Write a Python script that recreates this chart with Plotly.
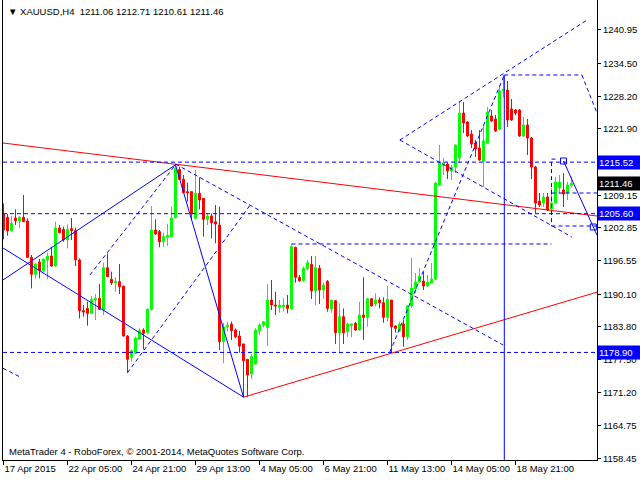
import plotly.graph_objects as go

# Velas H4 de XAUUSD (indice de barra 0..142)
opens = [1205.54, 1204.90, 1202.33, 1204.77, 1204.19, 1204.90, 1204.19, 1197.20, 1193.93, 1196.30,
         1194.63, 1196.69, 1197.46, 1195.53, 1202.84, 1202.59, 1200.54, 1202.72, 1202.33, 1196.69,
         1186.94, 1187.38, 1186.42, 1188.99, 1189.31, 1187.06, 1195.21, 1192.97, 1192.32, 1192.52,
         1191.68, 1182.06, 1177.95, 1178.72, 1181.48, 1183.21, 1182.70, 1187.19, 1202.46, 1202.14,
         1200.21, 1201.05, 1201.18, 1204.83, 1214.13, 1212.21, 1209.84, 1209.84, 1204.70, 1209.52,
         1208.55, 1204.51, 1205.15, 1204.06, 1203.42, 1180.97, 1183.85, 1184.37, 1183.21, 1182.06,
         1180.52, 1177.57, 1174.74, 1176.67, 1183.08, 1184.17, 1183.72, 1188.98, 1188.02, 1187.57,
         1187.70, 1188.02, 1187.25, 1199.12, 1193.35, 1192.71, 1195.08, 1195.85, 1190.78, 1195.08,
         1190.91, 1192.58, 1187.25, 1188.86, 1182.70, 1185.78, 1182.89, 1184.11, 1184.49, 1183.21,
         1186.10, 1185.65, 1189.24, 1188.22, 1188.98, 1188.47, 1185.65, 1188.98, 1183.98, 1183.08,
         1184.37, 1181.93, 1187.83, 1191.10, 1192.45, 1192.64, 1191.68, 1192.26, 1193.03, 1211.12,
         1214.97, 1215.16, 1213.81, 1214.58, 1216.31, 1224.97, 1223.24, 1220.93, 1219.20, 1218.24,
         1215.74, 1219.20, 1224.40, 1223.82, 1221.90, 1229.21, 1229.40, 1225.74, 1225.55, 1225.55,
         1220.55, 1222.66, 1220.16, 1214.58, 1208.04, 1207.65, 1208.81, 1206.50, 1207.65, 1210.54,
         1210.16, 1209.58, 1211.06]
highs = [1207.59, 1205.54, 1205.15, 1206.44, 1205.15, 1209.20, 1204.70, 1197.65, 1196.17, 1196.88,
         1196.95, 1198.10, 1199.25, 1204.06, 1203.42, 1203.10, 1203.55, 1204.77, 1202.91, 1197.01,
         1188.03, 1188.67, 1189.76, 1190.14, 1192.07, 1196.17, 1197.97, 1194.44, 1193.35, 1195.92,
         1191.75, 1182.25, 1179.49, 1181.93, 1183.54, 1183.54, 1187.38, 1207.08, 1204.51, 1202.46,
         1201.95, 1203.61, 1206.95, 1215.00, 1214.65, 1213.04, 1211.57, 1209.90, 1214.01, 1212.60,
         1208.60, 1205.67, 1205.66, 1207.27, 1206.95, 1184.62, 1184.82, 1184.82, 1183.53, 1183.08,
         1180.60, 1177.60, 1178.59, 1183.53, 1184.49, 1184.90, 1192.06, 1192.83, 1190.59, 1188.98,
         1189.31, 1189.95, 1199.76, 1199.25, 1193.80, 1195.40, 1196.68, 1197.45, 1197.45, 1195.72,
         1192.32, 1192.83, 1189.00, 1188.90, 1188.34, 1187.38, 1184.62, 1184.49, 1184.82, 1188.66,
         1193.35, 1189.30, 1189.30, 1190.27, 1189.50, 1189.50, 1191.68, 1189.00, 1184.17, 1184.82,
         1185.14, 1188.02, 1197.07, 1194.18, 1195.15, 1194.38, 1193.80, 1196.11, 1211.70, 1218.82,
         1216.31, 1215.40, 1214.97, 1218.90, 1227.09, 1227.09, 1223.40, 1221.70, 1219.78, 1221.70,
         1222.66, 1226.13, 1225.55, 1224.59, 1230.36, 1232.29, 1231.13, 1227.67, 1225.74, 1225.74,
         1224.20, 1223.82, 1220.36, 1214.80, 1209.58, 1209.58, 1209.58, 1210.50, 1212.66, 1213.04,
         1213.43, 1211.70, 1212.71]
lows = [1200.66, 1201.37, 1202.14, 1203.42, 1202.78, 1204.00, 1197.10, 1191.23, 1193.16, 1193.16,
        1194.44, 1192.97, 1195.40, 1195.40, 1201.82, 1200.21, 1198.93, 1200.54, 1195.53, 1185.46,
        1185.78, 1184.05, 1186.30, 1185.14, 1187.06, 1186.10, 1193.40, 1191.87, 1190.59, 1190.14,
        1181.93, 1175.00, 1177.12, 1178.60, 1181.29, 1179.49, 1182.57, 1186.94, 1201.50, 1199.12,
        1199.25, 1199.38, 1201.10, 1204.70, 1212.08, 1209.52, 1207.91, 1204.51, 1204.60, 1206.44,
        1201.18, 1203.42, 1200.85, 1199.89, 1179.36, 1176.80, 1182.89, 1181.29, 1181.61, 1178.85,
        1170.25, 1170.38, 1173.78, 1176.60, 1182.25, 1183.72, 1180.13, 1187.06, 1186.10, 1186.55,
        1186.74, 1186.42, 1187.20, 1192.32, 1192.51, 1192.50, 1194.76, 1189.18, 1188.02, 1188.22,
        1189.18, 1186.74, 1186.55, 1180.52, 1178.72, 1180.52, 1181.93, 1181.80, 1183.08, 1183.08,
        1181.29, 1183.85, 1187.70, 1187.83, 1187.38, 1184.62, 1184.82, 1178.85, 1182.70, 1182.89,
        1180.00, 1181.29, 1187.45, 1190.34, 1192.26, 1190.91, 1191.49, 1192.20, 1192.84, 1210.93,
        1213.04, 1212.27, 1212.08, 1213.43, 1215.35, 1221.13, 1220.36, 1218.24, 1216.51, 1215.80,
        1210.73, 1219.10, 1223.24, 1221.32, 1221.70, 1228.00, 1222.28, 1223.44, 1224.59, 1220.36,
        1220.36, 1216.89, 1212.27, 1205.73, 1206.88, 1206.88, 1206.12, 1205.60, 1207.50, 1209.58,
        1206.88, 1208.23, 1210.61]
closes = [1202.46, 1202.33, 1203.74, 1204.26, 1204.90, 1204.06, 1197.20, 1193.93, 1195.92, 1194.63,
          1196.88, 1197.46, 1195.53, 1202.84, 1201.95, 1200.54, 1202.59, 1202.33, 1196.69, 1186.94,
          1186.68, 1186.42, 1189.12, 1189.31, 1187.19, 1195.21, 1193.48, 1192.32, 1192.52, 1191.55,
          1182.06, 1177.57, 1179.24, 1181.67, 1183.09, 1182.57, 1187.19, 1202.46, 1201.69, 1200.21,
          1201.18, 1201.43, 1204.77, 1214.33, 1212.21, 1209.64, 1209.64, 1205.54, 1209.52, 1208.23,
          1204.51, 1205.15, 1203.87, 1203.61, 1180.97, 1183.85, 1184.17, 1183.08, 1181.93, 1180.13,
          1177.31, 1174.55, 1178.08, 1183.21, 1184.17, 1184.82, 1188.98, 1188.02, 1187.83, 1188.02,
          1188.02, 1187.38, 1199.25, 1193.35, 1192.71, 1195.08, 1196.17, 1190.78, 1195.21, 1190.91,
          1191.87, 1187.38, 1188.98, 1182.70, 1185.78, 1182.70, 1184.37, 1184.37, 1183.21, 1186.10,
          1185.65, 1189.24, 1187.83, 1188.98, 1188.47, 1185.65, 1189.11, 1183.85, 1183.53, 1184.37,
          1181.93, 1187.83, 1191.30, 1192.45, 1193.61, 1191.68, 1192.45, 1193.03, 1211.50, 1215.35,
          1215.35, 1213.81, 1214.58, 1218.82, 1224.97, 1223.05, 1220.55, 1219.01, 1218.05, 1215.93,
          1219.59, 1225.17, 1223.43, 1221.51, 1229.21, 1229.60, 1223.63, 1223.63, 1224.97, 1220.55,
          1222.66, 1220.16, 1214.58, 1207.65, 1207.27, 1208.81, 1206.31, 1207.65, 1211.70, 1211.70,
          1209.39, 1211.12, 1211.46]
bars = list(range(len(closes)))

# Etiquetas del eje de tiempo (cada 16 barras)
date_ticks = [0, 16, 32, 48, 64, 80, 96, 112, 128]
date_labels = ['17 Apr 2015', '22 Apr 05:00', '24 Apr 21:00', '29 Apr 13:00', '4 May 05:00',
               '6 May 21:00', '11 May 13:00', '14 May 05:00', '18 May 21:00']

# Escala de precios del eje derecho (1215.52 queda tapado por su caja)
price_ticks = [1240.95, 1234.50, 1228.20, 1221.90, 1215.52, 1209.15, 1202.85,
               1196.55, 1190.10, 1183.80, 1177.50, 1171.20, 1164.75, 1158.45]
price_labels = ['1240.95', '1234.50', '1228.20', '1221.90', '', '1209.15', '1202.85',
                '1196.55', '1190.10', '1183.80', '1177.50', '1171.20', '1164.75', '1158.45']

# Niveles marcados en el eje (precio, color de fondo)
marked_levels = [(1215.52, '#0000ff'), (1211.46, '#000000'), (1205.60, '#0000ff'), (1178.90, '#0000ff')]

# Objetos dibujados sobre el grafico: (barra, precio) inicio y fin
red_lines = [
    [(-0.125, 1219.20), (148.375, 1205.15)],
    [(60, 1170.30), (148.375, 1190.50)],
]
blue_solid = [
    [(-0.125, 1199.00), (60, 1170.30)],
    [(-0.125, 1192.84), (43, 1215.00)],
    [(43, 1215.00), (60, 1170.30)],
    [(125.2, 1232.29), (125.2, 1158.20)],
    [(140, 1215.74), (148.375, 1201.46)],
]
blue_dashed = [
    [(-0.125, 1215.52), (148.375, 1215.52)],
    [(-0.125, 1205.60), (148.375, 1205.60)],
    [(-0.125, 1178.90), (148.375, 1178.90)],
    [(72, 1199.77), (137, 1199.77)],
    [(125.2, 1232.29), (144.6, 1232.29)],
    [(137, 1209.58), (148.375, 1209.58)],
    [(137, 1203.23), (148.375, 1203.23)],
    [(138, 1216.10), (137, 1216.10), (137, 1203.23)],
    [(21.6, 1193.80), (43, 1215.00)],
    [(31, 1175.00), (62, 1207.60)],
    [(43, 1215.16), (124.9, 1180.33)],
    [(99.1, 1219.78), (145.9, 1242.87)],
    [(99.1, 1219.78), (142.1, 1201.11)],
    [(96.6, 1178.98), (125.2, 1232.29)],
    [(-0.125, 1175.85), (4.6, 1174.00)],
    [(144.6, 1232.29), (148.375, 1224.97)],
]
anchor_points = [(140, 1215.74), (147.45, 1203.04)]

fig = go.Figure()

fig.add_trace(go.Candlestick(
    x=bars, open=opens, high=highs, low=lows, close=closes,
    increasing=dict(line=dict(color='#00ff00', width=1), fillcolor='#00ff00'),
    decreasing=dict(line=dict(color='#ff0000', width=1), fillcolor='#ff0000'),
    whiskerwidth=0,
    showlegend=False,
    hoverinfo='skip'
))

def add_segments(segments, color, dash):
    for seg in segments:
        fig.add_trace(go.Scatter(
            x=[p[0] for p in seg], y=[p[1] for p in seg],
            mode='lines', line=dict(color=color, width=1, dash=dash),
            showlegend=False, hoverinfo='skip'
        ))

add_segments(red_lines, '#ff0000', 'solid')
add_segments(blue_solid, '#0000ff', 'solid')
add_segments(blue_dashed, '#0000ff', '4px,3px')

fig.add_trace(go.Scatter(
    x=[p[0] for p in anchor_points], y=[p[1] for p in anchor_points],
    mode='markers', marker=dict(symbol='square-open', size=6, color='#0000ff', line=dict(width=1)),
    showlegend=False, hoverinfo='skip'
))

font = dict(family='Liberation Sans, Arial, sans-serif', size=9.5, color='black')

# Cajas de precio sobre el eje derecho
for level, bg in marked_levels:
    fig.add_annotation(
        xref='paper', x=1, yref='y', y=level,
        text='%.2f' % level, showarrow=False,
        xanchor='left', yanchor='middle', align='left',
        width=40, height=11, bgcolor=bg, borderpad=1,
        font=dict(family=font['family'], size=9.5, color='white')
    )

fig.add_annotation(
    xref='paper', yref='paper', x=0.005, y=0.976,
    text='\u25bc XAUUSD,H4  1211.06 1212.71 1210.61 1211.46',
    showarrow=False, xanchor='left', yanchor='middle', font=font
)
fig.add_annotation(
    xref='paper', yref='paper', x=0.007, y=0.018,
    text='MetaTrader 4 - RoboForex, \u00a9 2001-2014, MetaQuotes Software Corp.',
    showarrow=False, xanchor='left', yanchor='middle', font=font
)

fig.update_layout(
    width=640, height=480,
    margin=dict(l=3, r=43, t=0, b=20),
    paper_bgcolor='white', plot_bgcolor='white',
    font=font,
    xaxis=dict(
        range=[-0.125, 148.375], rangeslider=dict(visible=False),
        showgrid=False, zeroline=False,
        showline=True, linecolor='black', linewidth=1,
        tickvals=date_ticks, ticktext=date_labels, tickangle=0,
        ticks='outside', ticklen=4, tickcolor='black',
        ticklabelposition='outside right', tickfont=font
    ),
    yaxis=dict(
        range=[1158.2, 1246.72], side='right',
        showgrid=False, zeroline=False,
        showline=True, mirror=True, linecolor='black', linewidth=1,
        tickvals=price_ticks, ticktext=price_labels,
        ticks='outside', ticklen=3, tickcolor='black', tickfont=font
    )
)

# Quitamos el margen del body y la barra de herramientas
fig.write_html('out.html', config={'displayModeBar': False},
               post_script="document.body.style.margin='0';")
